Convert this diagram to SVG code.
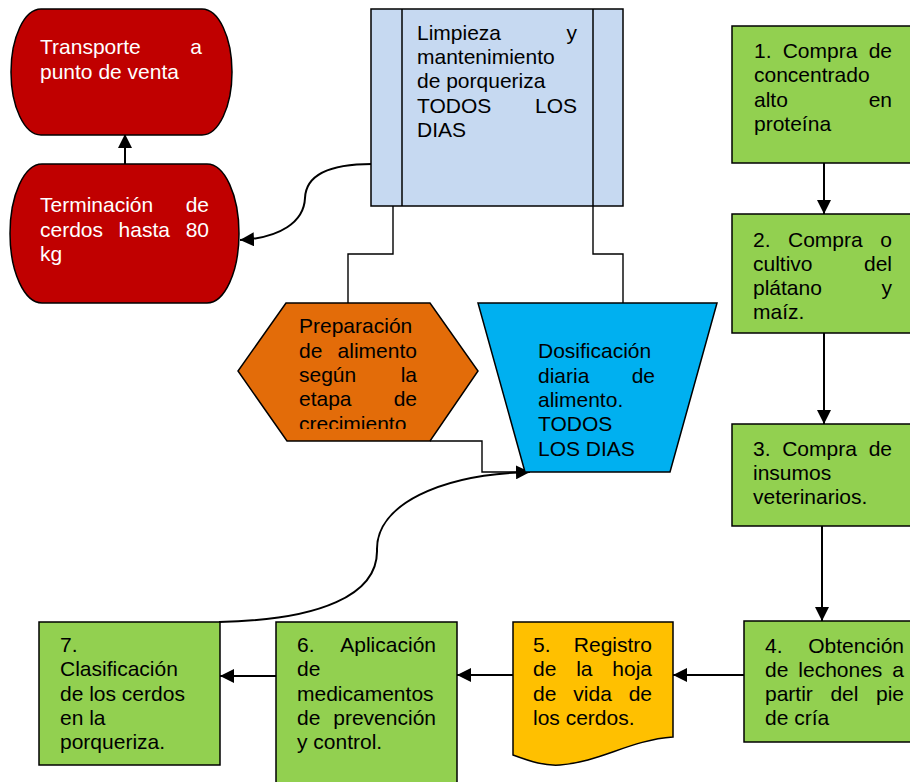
<svg xmlns="http://www.w3.org/2000/svg" width="910" height="782" viewBox="0 0 910 782">
  <style>
    .shape { stroke: #000; stroke-width: 1.5; }
    .red { fill: #C00000; }
    .blue { fill: #C6D9F1; }
    .orange { fill: #E36C09; }
    .cyan { fill: #00B0F0; }
    .green { fill: #92D050; }
    .yellow { fill: #FFC000; }
    text { font-family: "Liberation Sans", Arial, sans-serif; font-size: 21px; fill: #000; }
    .white { fill: #fff; }
    .end { text-anchor: end; }
    .conn { fill: none; stroke: #000; stroke-width: 2; }
    .elbow { fill: none; stroke: #000; stroke-width: 1.4; }
  </style>
  <defs>
    <marker id="arrow" viewBox="0 0 14 14" refX="14" refY="7" markerWidth="14" markerHeight="14" markerUnits="userSpaceOnUse" orient="auto">
      <path d="M0,0 L14,7 L0,14 Z" fill="#000"/>
    </marker>
    <clipPath id="hexClip">
      <rect x="280" y="303" width="160" height="126"/>
    </clipPath>
  </defs>

  <rect width="910" height="782" fill="#fff"/>

  <!-- connectors -->
  <g id="connectors">
    <line class="conn" x1="125" y1="164" x2="125" y2="134" marker-end="url(#arrow)"/>
    <path class="conn" d="M372,164 C330,164 306,175 305,198 C304,222 280,238 240,240" marker-end="url(#arrow)"/>
    <path class="elbow" d="M393,206 V254 H348 V303"/>
    <path class="elbow" d="M593,206 V254 H623 V303"/>
    <path class="elbow" d="M430,441 H482 V472 H526"/>
    <path class="conn" d="M219,622 C320,620 378,595 377,550 C376,505 440,474 530,472" marker-end="url(#arrow)"/>
    <line class="conn" x1="824" y1="163" x2="824" y2="214" marker-end="url(#arrow)"/>
    <line class="conn" x1="824" y1="318" x2="824" y2="424" marker-end="url(#arrow)"/>
    <line class="conn" x1="822" y1="526" x2="822" y2="621" marker-end="url(#arrow)"/>
    <line class="conn" x1="744" y1="675" x2="673" y2="675" marker-end="url(#arrow)"/>
    <line class="conn" x1="513" y1="675" x2="457" y2="675" marker-end="url(#arrow)"/>
    <line class="conn" x1="276" y1="676" x2="220" y2="676" marker-end="url(#arrow)"/>
  </g>

  <!-- Transporte a punto de venta -->
  <g id="transporte">
    <path class="shape red" d="M41,9 H202 A30,63 0 0 1 202,135 H41 A30,63 0 0 1 41,9 Z"/>
    <text class="white" x="40" y="54">Transporte</text>
    <text class="white end" x="202" y="54">a</text>
    <text class="white" x="40" y="78.5">punto de venta</text>
  </g>

  <!-- Terminación de cerdos hasta 80 kg -->
  <g id="terminacion">
    <path class="shape red" d="M42,164 H207 A32,69.5 0 0 1 207,303 H42 A32,69.5 0 0 1 42,164 Z"/>
    <text class="white" x="40" y="212.3">Terminación</text>
    <text class="white end" x="209" y="212.3">de</text>
    <text class="white" x="40" y="236.6">cerdos</text>
    <text class="white" x="118.6" y="236.6">hasta</text>
    <text class="white end" x="209" y="236.6">80</text>
    <text class="white" x="40" y="260.9">kg</text>
  </g>

  <!-- Limpieza y mantenimiento -->
  <g id="limpieza">
    <rect class="shape blue" x="371" y="9" width="252" height="197"/>
    <line class="shape" x1="402" y1="9" x2="402" y2="206"/>
    <line class="shape" x1="593" y1="9" x2="593" y2="206"/>
    <text x="417" y="40">Limpieza</text>
    <text class="end" x="577" y="40">y</text>
    <text x="417" y="64.2">mantenimiento</text>
    <text x="417" y="88.4">de porqueriza</text>
    <text x="417" y="112.6">TODOS</text>
    <text class="end" x="577" y="112.6">LOS</text>
    <text x="417" y="136.8">DIAS</text>
  </g>

  <!-- Preparación de alimento -->
  <g id="preparacion">
    <polygon class="shape orange" points="286,303 430,303 478,371 430,441 287,441 238,371"/>
    <g clip-path="url(#hexClip)">
      <text x="299" y="333.3">Preparación</text>
      <text x="299" y="357.6">de</text>
      <text class="end" x="417" y="357.6">alimento</text>
      <text x="299" y="381.9">según</text>
      <text class="end" x="417" y="381.9">la</text>
      <text x="299" y="406.2">etapa</text>
      <text class="end" x="417" y="406.2">de</text>
      <text x="299" y="430.5">crecimiento</text>
    </g>
  </g>

  <!-- Dosificación diaria -->
  <g id="dosificacion">
    <polygon class="shape cyan" points="478,303 717,303 670,472 525,472"/>
    <text x="538" y="358.3">Dosificación</text>
    <text x="538" y="382.6">diaria</text>
    <text class="end" x="655" y="382.6">de</text>
    <text x="538" y="406.9">alimento.</text>
    <text x="538" y="431.2">TODOS</text>
    <text x="538" y="455.5">LOS DIAS</text>
  </g>

  <!-- 1. Compra de concentrado -->
  <g id="paso1">
    <rect class="shape green" x="732" y="26" width="190" height="137"/>
    <text x="754" y="58">1.</text>
    <text x="782.7" y="58">Compra</text>
    <text class="end" x="892" y="58">de</text>
    <text x="754" y="82.3">concentrado</text>
    <text x="754" y="106.6">alto</text>
    <text class="end" x="892" y="106.6">en</text>
    <text x="754" y="130.9">proteína</text>
  </g>

  <!-- 2. Compra o cultivo -->
  <g id="paso2">
    <rect class="shape green" x="732" y="214" width="190" height="119"/>
    <text x="753" y="246.5">2.</text>
    <text x="788" y="246.5">Compra</text>
    <text class="end" x="892" y="246.5">o</text>
    <text x="753" y="270.8">cultivo</text>
    <text class="end" x="892" y="270.8">del</text>
    <text x="753" y="295.1">plátano</text>
    <text class="end" x="892" y="295.1">y</text>
    <text x="753" y="319.4">maíz.</text>
  </g>

  <!-- 3. Compra de insumos -->
  <g id="paso3">
    <rect class="shape green" x="732" y="424" width="190" height="102"/>
    <text x="753" y="455.5">3.</text>
    <text x="782.2" y="455.5">Compra</text>
    <text class="end" x="892" y="455.5">de</text>
    <text x="753" y="479.8">insumos</text>
    <text x="753" y="504.1">veterinarios.</text>
  </g>

  <!-- 4. Obtención de lechones -->
  <g id="paso4">
    <rect class="shape green" x="744" y="621" width="178" height="121"/>
    <text x="765" y="652.5">4.</text>
    <text class="end" x="904" y="652.5">Obtención</text>
    <text x="765" y="676.8">de</text>
    <text x="798.3" y="676.8">lechones</text>
    <text class="end" x="904" y="676.8">a</text>
    <text x="765" y="701.1">partir</text>
    <text x="830.4" y="701.1">del</text>
    <text class="end" x="904" y="701.1">pie</text>
    <text x="765" y="725.4">de cría</text>
  </g>

  <!-- 5. Registro de la hoja de vida -->
  <g id="paso5">
    <path class="shape yellow" d="M513,622 H673 V737 C630,740 600,762 560,765 C545,766 532,762 513,755 Z"/>
    <text x="533" y="652">5.</text>
    <text class="end" x="652" y="652">Registro</text>
    <text x="533" y="676.3">de</text>
    <text x="576.2" y="676.3">la</text>
    <text class="end" x="652" y="676.3">hoja</text>
    <text x="533" y="700.6">de</text>
    <text x="573.3" y="700.6">vida</text>
    <text class="end" x="652" y="700.6">de</text>
    <text x="533" y="724.9">los cerdos.</text>
  </g>

  <!-- 6. Aplicación de medicamentos -->
  <g id="paso6">
    <rect class="shape green" x="276" y="622" width="181" height="170"/>
    <text x="297" y="652">6.</text>
    <text class="end" x="436" y="652">Aplicación</text>
    <text x="297" y="676.3">de</text>
    <text x="297" y="700.6">medicamentos</text>
    <text x="297" y="724.9">de</text>
    <text class="end" x="436" y="724.9">prevención</text>
    <text x="297" y="749.2">y control.</text>
  </g>

  <!-- 7. Clasificación de los cerdos -->
  <g id="paso7">
    <rect class="shape green" x="39" y="622" width="181" height="143"/>
    <text x="60" y="652">7.</text>
    <text x="60" y="676.3">Clasificación</text>
    <text x="60" y="700.6">de los cerdos</text>
    <text x="60" y="724.9">en la</text>
    <text x="60" y="749.2">porqueriza.</text>
  </g>
</svg>
